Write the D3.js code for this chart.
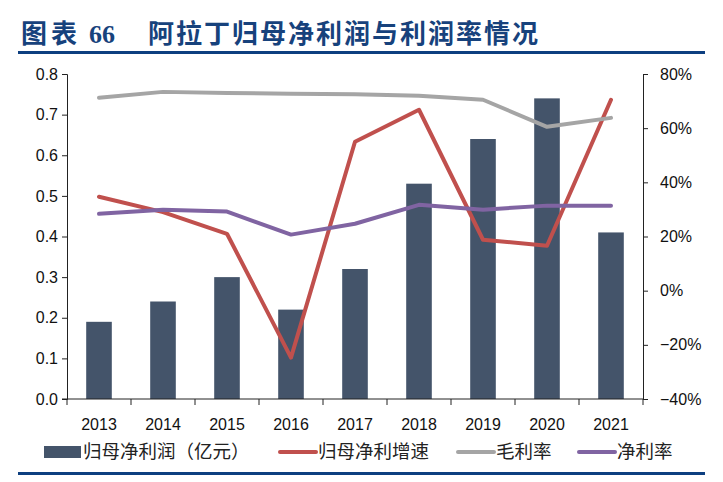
<!DOCTYPE html>
<html>
<head>
<meta charset="utf-8">
<script src="https://cdn.jsdelivr.net/npm/d3@7"></script>
<style>
  body { margin: 0; background: #fff; }
  svg { display: block; }
</style>
</head>
<body>
<svg width="723" height="482"></svg>
<script>
const years = ['2013', '2014', '2015', '2016', '2017', '2018', '2019', '2020', '2021'];
const netProfit = [0.19, 0.24, 0.30, 0.22, 0.32, 0.53, 0.64, 0.74, 0.41];
const profitGrowth = [0.347, 0.29, 0.21, -0.247, 0.55, 0.668, 0.188, 0.166, 0.705];
const grossMargin = [0.712, 0.734, 0.73, 0.727, 0.725, 0.72, 0.705, 0.605, 0.638];
const netMargin = [0.284, 0.299, 0.292, 0.207, 0.247, 0.317, 0.299, 0.314, 0.314];
const leftTicks = [0, 0.1, 0.2, 0.3, 0.4, 0.5, 0.6, 0.7, 0.8];
const rightTicks = [-0.4, -0.2, 0, 0.2, 0.4, 0.6, 0.8];

const titleText = '阿拉丁归母净利润与利润率情况';
const legendItems = [
  { name: '归母净利润（亿元）', type: 'bar', color: '#44546a' },
  { name: '归母净利增速', type: 'line', color: '#c0504d' },
  { name: '毛利率', type: 'line', color: '#a5a5a5' },
  { name: '净利率', type: 'line', color: '#8064a2' }
];

const svg = d3.select('svg');
const blue = '#17427c';
const axisColor = '#222';
const font = '"Liberation Sans", Arial, sans-serif';
const cjk = '"Noto Sans CJK SC", sans-serif';

// title
const title = svg.append('text')
  .attr('x', 21)
  .attr('y', 43)
  .attr('fill', blue)
  .attr('font-weight', 'bold')
  .attr('font-size', '26px');
title.append('tspan').attr('font-family', cjk).attr('letter-spacing', 4).text('图表');
title.append('tspan').attr('font-family', '"Liberation Serif", serif').attr('x', 89).text('66');
title.append('tspan').attr('font-family', cjk).attr('x', 148).attr('letter-spacing', 2).text(titleText);

svg.append('rect').attr('x', 18).attr('y', 51).attr('width', 687).attr('height', 3).attr('fill', '#0d3f80');
svg.append('rect').attr('x', 18).attr('y', 472).attr('width', 687).attr('height', 3).attr('fill', '#0d3f80');

// scales
const plotLeft = 67, plotRight = 643, plotTop = 74, plotBottom = 399;

const x = d3.scaleBand()
  .domain(years)
  .range([plotLeft, plotRight])
  .paddingInner(0.6)
  .paddingOuter(0.3);

const yLeft = d3.scaleLinear().domain([0, 0.8]).range([plotBottom, plotTop]);
const yRight = d3.scaleLinear().domain([-0.4, 0.8]).range([plotBottom, plotTop]);

// bars
svg.append('g').selectAll('rect')
  .data(netProfit)
  .enter().append('rect')
  .attr('x', (d, i) => x(years[i]))
  .attr('width', x.bandwidth())
  .attr('y', d => yLeft(d))
  .attr('height', d => yLeft(0) - yLeft(d))
  .attr('fill', '#44546a');

// axes
const leftAxis = d3.axisLeft(yLeft).tickValues(leftTicks).tickSize(5).tickPadding(4)
  .tickFormat(d3.format('.1f'));
const leftG = svg.append('g').attr('transform', `translate(${plotLeft},0)`).call(leftAxis);

const rightAxis = d3.axisRight(yRight).tickValues(rightTicks).tickSize(5).tickPadding(12)
  .tickFormat(d3.format('.0%'));
const rightG = svg.append('g').attr('transform', `translate(${plotRight},0)`).call(rightAxis);

const xBounds = d3.range(years.length + 1).map(i => plotLeft + i * x.step());
const xAxisG = svg.append('g');
xAxisG.append('line')
  .attr('x1', plotLeft - 5).attr('x2', plotRight)
  .attr('y1', plotBottom).attr('y2', plotBottom)
  .attr('stroke', axisColor);
xAxisG.selectAll('.xt').data(xBounds).enter().append('line')
  .attr('x1', d => d).attr('x2', d => d)
  .attr('y1', plotBottom).attr('y2', plotBottom + 6)
  .attr('stroke', axisColor);
xAxisG.selectAll('text').data(years).enter().append('text')
  .attr('x', d => x(d) + x.bandwidth() / 2)
  .attr('y', 430)
  .attr('text-anchor', 'middle')
  .text(d => d);

[leftG, rightG].forEach(g => {
  g.select('.domain').attr('stroke', axisColor);
  g.selectAll('.tick line').attr('stroke', axisColor);
});
svg.selectAll('g text')
  .attr('font-family', font)
  .attr('font-size', '16px')
  .attr('fill', '#111');

// lines
const cx = i => x(years[i]) + x.bandwidth() / 2;
const lineGen = d3.line()
  .x((d, i) => cx(i))
  .y(d => yRight(d));

[[profitGrowth, '#c0504d'], [grossMargin, '#a5a5a5'], [netMargin, '#8064a2']].forEach(([vals, c]) => {
  svg.append('path')
    .datum(vals)
    .attr('d', lineGen)
    .attr('fill', 'none')
    .attr('stroke', c)
    .attr('stroke-width', 4)
    .attr('stroke-linejoin', 'round')
    .attr('stroke-linecap', 'round');
});

// legend
const legendX = [44, 278, 456, 577];
const legendG = svg.append('g');
legendItems.forEach((item, i) => {
  const g = legendG.append('g').attr('transform', `translate(${legendX[i]},452)`);
  if (item.type === 'bar') {
    g.append('rect').attr('x', 0).attr('y', -6).attr('width', 37).attr('height', 12).attr('fill', item.color);
  } else {
    g.append('line').attr('x1', 2).attr('x2', 38).attr('y1', 0).attr('y2', 0)
      .attr('stroke', item.color).attr('stroke-width', 4).attr('stroke-linecap', 'round');
  }
  g.append('text')
    .attr('x', item.type === 'bar' ? 39 : 40)
    .attr('y', 0)
    .attr('dy', '0.35em')
    .attr('font-family', cjk)
    .attr('font-size', '18.5px')
    .attr('fill', '#222')
    .text(item.name);
});
</script>
</body>
</html>
